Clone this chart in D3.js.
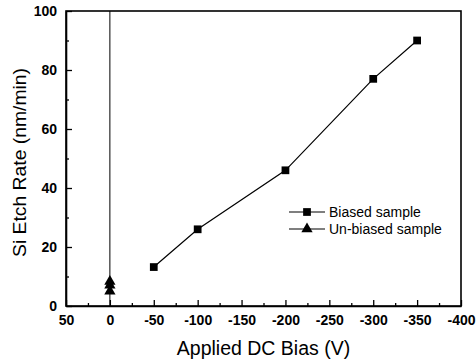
<!DOCTYPE html>
<html><head><meta charset="utf-8">
<script src="https://cdn.jsdelivr.net/npm/d3@7"></script>
<style>body{margin:0;background:#fff}svg{display:block}</style>
</head><body><svg id="c" width="476" height="362"></svg>
<script>
const biasedX = [-50, -100, -200, -300, -350];
const biasedY = [13.2, 26, 46, 77, 90];
const unbiasedX = [0, 0, 0];
const unbiasedY = [5, 7, 8.3];
const xTicks = [50, 0, -50, -100, -150, -200, -250, -300, -350, -400];
const yTicks = [0, 20, 40, 60, 80, 100];
const seriesNames = ["Biased sample", "Un-biased sample"];

const FONT = "Liberation Sans, Arial, sans-serif";
const svg = d3.select("#c");
const L = 66, R = 461, T = 11, B = 306;
const x = d3.scaleLinear().domain([50, -400]).range([L, R]);
const y = d3.scaleLinear().domain([0, 100]).range([B, T]);

// vertical reference line at 0
svg.append("line").attr("x1", x(0)).attr("x2", x(0)).attr("y1", T).attr("y2", B)
  .attr("stroke", "#000").attr("stroke-width", 1);

// axes
const xAxis = d3.axisBottom(x).tickValues(xTicks).tickSizeInner(-6).tickSizeOuter(0).tickPadding(9).tickFormat(d => String(d));
const gx = svg.append("g").attr("transform", `translate(0,${B})`).call(xAxis);
const xMinor = d3.axisBottom(x).tickValues(d3.range(25, -400, -50)).tickSizeInner(-3).tickSizeOuter(0).tickFormat("");
svg.append("g").attr("transform", `translate(0,${B})`).call(xMinor).select(".domain").remove();
const yAxis = d3.axisLeft(y).tickValues(yTicks).tickSizeInner(-6).tickSizeOuter(0).tickPadding(9).tickFormat(d => String(d));
const gy = svg.append("g").attr("transform", `translate(${L},0)`).call(yAxis);
const yMinor = d3.axisLeft(y).tickValues(d3.range(10, 100, 20)).tickSizeInner(-3).tickSizeOuter(0).tickFormat("");
svg.append("g").attr("transform", `translate(${L},0)`).call(yMinor).select(".domain").remove();
[gx, gy].forEach(g => g.attr("font-family", FONT).attr("font-size", 14).attr("font-weight", "bold"));
svg.selectAll(".tick line").attr("stroke-width", 1.3);
svg.selectAll(".tick text").attr("font-family", FONT).attr("font-size", 14).attr("font-weight", "bold").attr("fill", "#000");
gx.selectAll(".tick text").attr("dy", "0.71em");

// frame
svg.append("rect").attr("x", L).attr("y", T).attr("width", R - L).attr("height", B - T)
  .attr("fill", "none").attr("stroke", "#000").attr("stroke-width", 1.6);
svg.selectAll(".domain").attr("stroke-width", 1.6);

// biased line
const pts = biasedX.map((d, i) => [d, biasedY[i]]);
svg.append("path").datum(pts).attr("fill", "none").attr("stroke", "#000").attr("stroke-width", 1.2)
  .attr("d", d3.line().x(d => x(d[0])).y(d => y(d[1])));
const sq = d3.symbol().type(d3.symbolSquare).size(60);
const tri = d3.symbol().type(d3.symbolTriangle).size(55);
svg.selectAll(".sq").data(pts).enter().append("path").attr("d", sq)
  .attr("transform", d => `translate(${x(d[0])},${y(d[1])})`).attr("fill", "#000");
const upts = unbiasedX.map((d, i) => [d, unbiasedY[i]]);
svg.selectAll(".tri").data(upts).enter().append("path").attr("d", tri)
  .attr("transform", d => `translate(${x(d[0])},${y(d[1])})`).attr("fill", "#000");

// legend
const lg = svg.append("g");
[sq, tri].forEach((sym, i) => {
  const ly = 212 + i * 17;
  lg.append("line").attr("x1", 289).attr("x2", 325).attr("y1", ly).attr("y2", ly).attr("stroke", "#000").attr("stroke-width", 1.2);
  lg.append("path").attr("d", sym).attr("transform", `translate(307,${ly})`).attr("fill", "#000");
  lg.append("text").attr("x", 329).attr("y", ly + 5).attr("font-family", FONT).attr("font-size", 14).text(seriesNames[i]);
});

// titles
svg.append("text").attr("x", 263.5).attr("y", 355).attr("text-anchor", "middle").attr("font-family", FONT).attr("font-size", 19.5).text("Applied DC Bias (V)");
svg.append("text").attr("transform", `translate(26,162.5) rotate(-90)`).attr("text-anchor", "middle").attr("font-family", FONT).attr("font-size", 18)
  .attr("textLength", 189).attr("lengthAdjust", "spacingAndGlyphs").text("Si Etch Rate (nm/min)");
</script></body></html>
